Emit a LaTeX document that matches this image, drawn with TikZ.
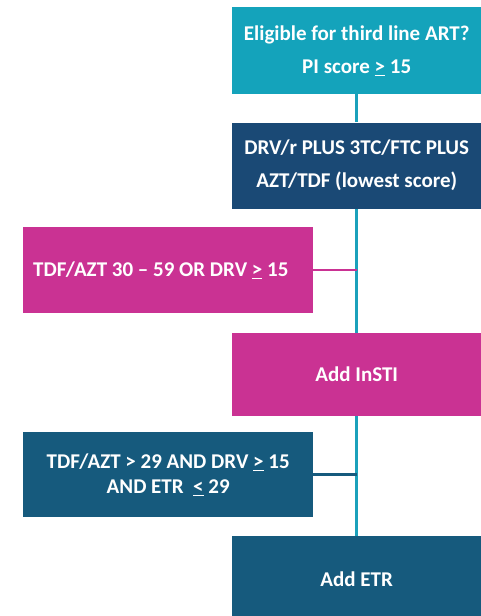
\documentclass[tikz,border=0pt]{standalone}
\usepackage{fontspec}
\setmainfont{Carlito}
\usepackage{xcolor}
\usepackage{tikz}
\usetikzlibrary{positioning}

\definecolor{eligteal}{RGB}{20,163,187}
\definecolor{regnavy}{RGB}{26,73,117}
\definecolor{instipink}{RGB}{202,50,147}
\definecolor{etrblue}{RGB}{22,90,125}
\definecolor{trunkteal}{RGB}{27,161,187}

\begin{document}
\begin{tikzpicture}[x=1pt, y=-1pt, node distance=28pt]
\tikzstyle{box} = [rectangle, inner sep=0pt, text=white, font=\fontsize{21}{33}\selectfont\bfseries, align=center]
\tikzstyle{rightbox} = [box, minimum width=249pt, minimum height=86pt]
\tikzstyle{leftbox} = [box, minimum width=290pt, minimum height=86pt]
\tikzstyle{trunk} = [line width=2.5pt, draw=trunkteal]
\tikzstyle{branch} = [line width=2.5pt]

\useasboundingbox (0,0) rectangle (481,616);

\node [rightbox, fill=eligteal, anchor=north west, minimum height=87pt] (elig) at (232,7) {Eligible for third line ART?\\PI score \underline{>} 15};
\node [rightbox, fill=regnavy, below=of elig] (regimen) {DRV/r PLUS 3TC/FTC PLUS\\AZT/TDF (lowest score)};
\node [rightbox, fill=instipink, below=124pt of regimen, minimum height=83pt] (insti) {Add InSTI};
\node [rightbox, fill=etrblue, below=120pt of insti] (etr) {Add ETR};
\node [leftbox, fill=instipink, anchor=north west, align=flush left, text width=270pt] (tdfrange) at (23,227) {TDF/AZT 30 -- 59 OR DRV \underline{>} 15};
\node [leftbox, fill=etrblue, anchor=north west, minimum height=85pt, font=\fontsize{21}{25}\selectfont\bfseries] (tdfdrv) at (23,432) {TDF/AZT > 29 AND DRV \underline{>} 15\\AND ETR \ \underline{<} 29};

\draw [trunk] (elig) -- (regimen);
\draw [trunk] (regimen) -- (insti);
\draw [trunk] (insti) -- (etr);
\draw [branch, draw=instipink] (tdfrange.east) -- (tdfrange.east -| regimen.south);
\draw [branch, draw=etrblue] (tdfdrv.east) -- (tdfdrv.east -| insti.south);

\end{tikzpicture}
\end{document}
